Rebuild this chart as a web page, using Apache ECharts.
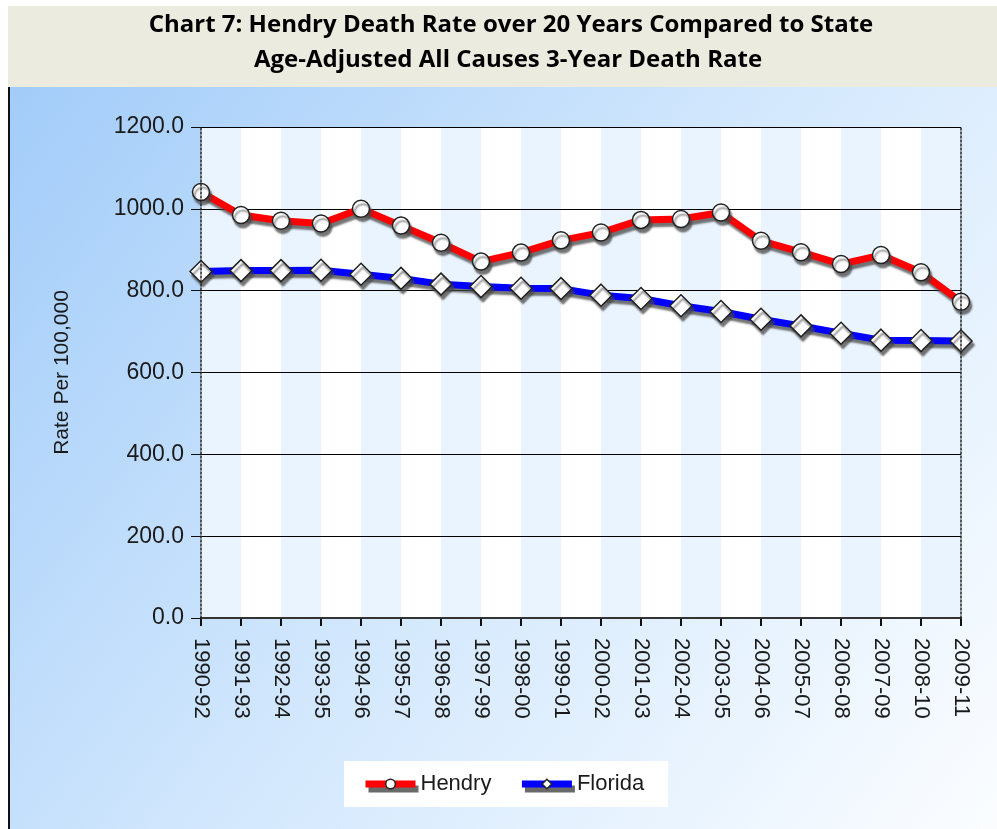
<!DOCTYPE html>
<html>
<head>
<meta charset="utf-8">
<script src="https://cdn.jsdelivr.net/npm/echarts@6/dist/echarts.min.js"></script>
<style>
html,body{margin:0;padding:0;background:#fff;}
#main{width:997px;height:829px;}
</style>
</head>
<body>
<div id="main"></div>
<script>
// ---- data ----
const categories = ['1990-92','1991-93','1992-94','1993-95','1994-96','1995-97','1996-98','1997-99','1998-00','1999-01','2000-02','2001-03','2002-04','2003-05','2004-06','2005-07','2006-08','2007-09','2008-10','2009-11'];
const hendry = [1041, 985, 971, 964, 1000, 959, 917, 871, 893, 923, 942, 973, 975, 991, 922, 894, 865, 887, 845, 773];
const florida = [847, 849, 849, 850, 840, 830, 816, 810, 806, 805, 789, 781, 763, 749, 730, 714, 696, 679, 678, 677];
const seriesNames = ['Hendry', 'Florida'];
const titleLines = ['Chart 7: Hendry Death Rate over 20 Years Compared to State', 'Age-Adjusted All Causes 3-Year Death Rate'];
const yAxisName = 'Rate Per 100,000';
const yMin = 0, yMax = 1200, yStep = 200;

const chart = echarts.init(document.getElementById('main'), null, {renderer: 'canvas'});
const axisFont = 'Liberation Sans';
const shadow = {shadowColor: 'rgba(70,70,70,0.75)', shadowBlur: 2, shadowOffsetX: 2, shadowOffsetY: 4};

const option = {
  animation: false,
  backgroundColor: '#ffffff',
  graphic: [
    {type: 'rect', z: -10, shape: {x: 8, y: 6, width: 989, height: 81}, style: {fill: '#ECEBE0'}},
    {type: 'rect', z: -10, shape: {x: 8, y: 87, width: 989, height: 742},
      style: {fill: new echarts.graphic.LinearGradient(0, 0, 1, 1, [
        {offset: 0, color: '#A2CCF9'},
        {offset: 0.5, color: '#D3E8FD'},
        {offset: 1, color: '#FBFDFF'}
      ])}},
    {type: 'rect', z: -9, shape: {x: 8, y: 87, width: 2, height: 742}, style: {fill: '#111'}},
    {type: 'text', z: 5, x: 511, y: 25, style: {text: titleLines[0], textAlign: 'center', textVerticalAlign: 'middle', fill: '#000', font: 'bold 24px "Open Sans"'}},
    {type: 'text', z: 5, x: 508, y: 60, style: {text: titleLines[1], textAlign: 'center', textVerticalAlign: 'middle', fill: '#000', font: 'bold 24px "Open Sans"'}}
  ],
  grid: {left: 201, right: 36, top: 127, bottom: 211, containLabel: false},
  legend: {
    data: seriesNames,
    left: 344, top: 761,
    backgroundColor: '#ffffff',
    padding: [12, 24, 12, 18],
    itemWidth: 50, itemHeight: 12, itemGap: 27,
    lineStyle: {width: 7, shadowColor: 'rgba(90,90,90,0.9)', shadowBlur: 0, shadowOffsetX: 3, shadowOffsetY: 5},
    itemStyle: {color: '#FFFFFF', borderColor: '#222', borderWidth: 1.5},
    textStyle: {fontFamily: axisFont, fontSize: 22, color: '#1a1a1a'}
  },
  xAxis: [{
    type: 'category',
    data: categories,
    boundaryGap: false,
    z: 0,
    axisLine: {show: true, lineStyle: {color: '#111', width: 2}},
    axisTick: {show: true, length: 8, lineStyle: {color: '#111', width: 2}},
    axisLabel: {rotate: -90, margin: 20, interval: 0, fontFamily: axisFont, fontSize: 22, color: '#1a1a1a'},
    splitLine: {show: false},
    splitArea: {show: true, areaStyle: {color: ['#EAF4FE', '#FFFFFF']}}
  }, {
    type: 'category',
    data: categories,
    position: 'top',
    boundaryGap: false,
    z: 1,
    axisLine: {show: true, lineStyle: {color: '#333', width: 2}},
    axisTick: {show: false},
    axisLabel: {show: false},
    splitLine: {show: false}
  }],
  yAxis: [{
    type: 'value',
    min: yMin, max: yMax, interval: yStep,
    z: 1,
    name: yAxisName,
    nameLocation: 'middle',
    nameGap: 128,
    nameTextStyle: {fontFamily: axisFont, fontSize: 21, color: '#1a1a1a'},
    axisLine: {show: false},
    axisTick: {show: true, length: 10, lineStyle: {color: '#111', width: 1}},
    axisLabel: {margin: 17, fontFamily: axisFont, fontSize: 23, color: '#1a1a1a', formatter: v => v.toFixed(1)},
    splitLine: {show: true, lineStyle: {color: '#000', width: 1.2}}
  }, {
    type: 'value', position: 'left', min: yMin, max: yMax, interval: yStep, z: 10,
    axisLine: {show: true, lineStyle: {color: '#222', width: 1.5, type: [2, 2]}},
    axisTick: {show: false}, axisLabel: {show: false}, splitLine: {show: false}
  }, {
    type: 'value', position: 'right', min: yMin, max: yMax, interval: yStep, z: 10,
    axisLine: {show: true, lineStyle: {color: '#222', width: 1.5, type: [2, 2]}},
    axisTick: {show: false}, axisLabel: {show: false}, splitLine: {show: false}
  }],
  series: [{
    name: seriesNames[0],
    type: 'line',
    data: hendry,
    symbol: 'circle',
    symbolSize: 17,
    lineStyle: Object.assign({color: '#FF0000', width: 7}, shadow),
    itemStyle: Object.assign({color: '#FFFFFF', borderColor: '#222', borderWidth: 1.5}, shadow),
    color: '#FF0000',
    z: 3
  }, {
    name: seriesNames[1],
    type: 'line',
    data: florida,
    symbol: 'diamond',
    symbolSize: 22,
    lineStyle: Object.assign({color: '#0000FF', width: 7}, shadow),
    itemStyle: Object.assign({color: '#FFFFFF', borderColor: '#222', borderWidth: 1.5}, shadow),
    color: '#0000FF',
    z: 2
  }]
};
chart.setOption(option);
</script>
</body>
</html>
